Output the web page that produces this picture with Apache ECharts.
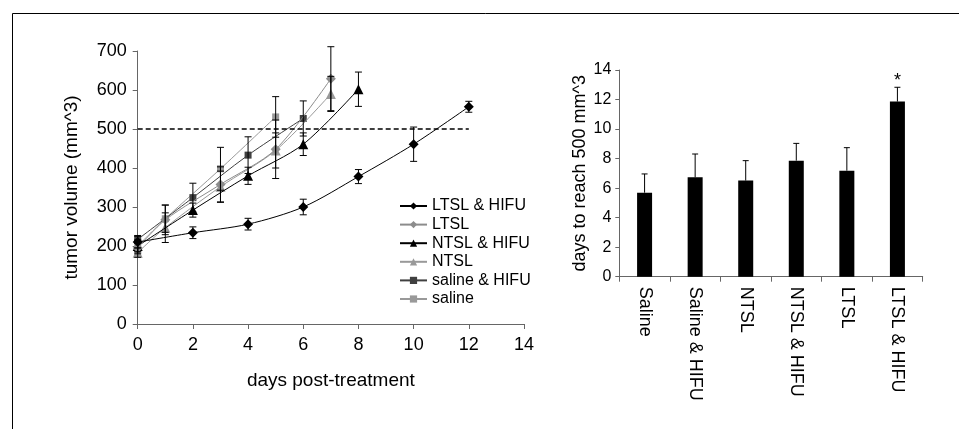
<!DOCTYPE html>
<html>
<head>
<meta charset="utf-8">
<script src="https://cdn.jsdelivr.net/npm/echarts@6/dist/echarts.min.js"></script>
<style>
html,body{margin:0;padding:0;background:#fff;}
#chart{width:959px;height:429px;}
</style>
</head>
<body>
<div id="chart"></div>
<script>
// ---- Left panel: tumor volume over time ----
const seriesNames = ['LTSL & HIFU', 'LTSL', 'NTSL & HIFU', 'NTSL', 'saline & HIFU', 'saline'];

const ltslHifuDays = [0, 2, 4, 6, 8, 10, 12];
const ltslHifuVol  = [210, 234, 256, 300, 378, 461, 557];
const ltslHifuErr  = [15, 15, 15, 20, 18, 44, 14];

const ltslDays = [0, 1, 3, 5, 7];
const ltslVol  = [195, 267, 358, 448, 629];
const ltslErr  = [15, 38, 45, 75, 82];

const ntslHifuDays = [0, 2, 4, 6, 8];
const ntslHifuVol  = [200, 292, 380, 461, 602];
const ntslHifuErr  = [15, 18, 22, 29, 44];

const ntslDays = [0, 1, 3, 5, 7];
const ntslVol  = [183, 247, 352, 445, 590];
const ntslErr  = [12, 38, 40, 45, 45];

const salineHifuDays = [0, 2, 4, 6];
const salineHifuVol  = [217, 324, 433, 527];
const salineHifuErr  = [10, 37, 47, 45];

const salineDays = [0, 1, 3, 5];
const salineVol  = [200, 270, 398, 531];
const salineErr  = [15, 35, 55, 52];

const thresholdVolume = 500;
const thresholdEndDay = 12;

const xMin = 0, xMax = 14, xStep = 2;
const yMin = 0, yMax = 700, yStep = 100;

// ---- Right panel: days to reach 500 mm^3 ----
const barCategories = ['Saline', 'Saline & HIFU', 'NTSL', 'NTSL & HIFU', 'LTSL', 'LTSL & HIFU'];
const barDays = [5.69, 6.73, 6.51, 7.86, 7.18, 11.86];
const barErr  = [1.27, 1.58, 1.35, 1.17, 1.56, 0.97];
const barMarks = ['', '', '', '', '', '*'];
const barYMin = 0, barYMax = 14, barYStep = 2;

const FONT = 'Liberation Sans, Arial, sans-serif';

const groups = [
  {name: seriesNames[0], days: ltslHifuDays, vol: ltslHifuVol, err: ltslHifuErr, color: '#000000', symbol: 'diamond', size: 10},
  {name: seriesNames[1], days: ltslDays, vol: ltslVol, err: ltslErr, color: '#8c8c8c', symbol: 'diamond', size: 10},
  {name: seriesNames[2], days: ntslHifuDays, vol: ntslHifuVol, err: ntslHifuErr, color: '#000000', symbol: 'triangle', size: 10},
  {name: seriesNames[3], days: ntslDays, vol: ntslVol, err: ntslErr, color: '#999999', symbol: 'triangle', size: 10},
  {name: seriesNames[4], days: salineHifuDays, vol: salineHifuVol, err: salineHifuErr, color: '#404040', symbol: 'rect', size: 7},
  {name: seriesNames[5], days: salineDays, vol: salineVol, err: salineErr, color: '#999999', symbol: 'rect', size: 7}
];

function lineErrRender(params, api) {
  const x = api.value(0), y = api.value(1), e = api.value(2);
  const top = api.coord([x, y + e]);
  const bot = api.coord([x, y - e]);
  const hw = 3.5;
  const st = {stroke: '#000', lineWidth: 1};
  return {
    type: 'group',
    children: [
      {type: 'line', shape: {x1: top[0], y1: top[1], x2: bot[0], y2: bot[1]}, style: st},
      {type: 'line', shape: {x1: top[0] - hw, y1: top[1], x2: top[0] + hw, y2: top[1]}, style: st},
      {type: 'line', shape: {x1: bot[0] - hw, y1: bot[1], x2: bot[0] + hw, y2: bot[1]}, style: st}
    ]
  };
}

function barErrRender(params, api) {
  const i = api.value(0), v = api.value(1), e = api.value(2);
  const base = api.coord([i, v]);
  const top = api.coord([i, v + e]);
  const hw = 3;
  const st = {stroke: '#000', lineWidth: 1};
  const children = [
    {type: 'line', shape: {x1: base[0], y1: base[1], x2: top[0], y2: top[1]}, style: st},
    {type: 'line', shape: {x1: top[0] - hw, y1: top[1], x2: top[0] + hw, y2: top[1]}, style: st}
  ];
  const mark = barMarks[params.dataIndex];
  if (mark) {
    children.push({type: 'text', style: {text: mark, x: top[0], y: top[1] + 3, align: 'center', verticalAlign: 'bottom', fontSize: 18, fontFamily: FONT, fill: '#000'}});
  }
  return {type: 'group', children};
}

const series = [];
groups.forEach((g, gi) => {
  const s = {
    name: g.name,
    type: 'line',
    xAxisIndex: 0, yAxisIndex: 0,
    data: g.days.map((d, i) => [d, g.vol[i]]),
    symbol: g.symbol,
    symbolSize: g.size,
    smooth: 0.3,
    lineStyle: {color: g.color, width: 1},
    itemStyle: {color: g.color},
    z: 3 + (6 - gi) * 0.01,
    animation: false
  };
  if (gi === 0) {
    s.markLine = {
      silent: true,
      symbol: 'none',
      label: {show: false},
      lineStyle: {color: '#000', type: [5, 3], width: 1.5},
      data: [[{coord: [xMin, thresholdVolume]}, {coord: [thresholdEndDay, thresholdVolume]}]]
    };
  }
  series.push(s);
  series.push({
    name: g.name + ' error',
    type: 'custom',
    xAxisIndex: 0, yAxisIndex: 0,
    data: g.days.map((d, i) => [d, g.vol[i], g.err[i]]),
    renderItem: lineErrRender,
    z: 4,
    animation: false
  });
});

series.push({
  name: 'days to reach',
  type: 'bar',
  xAxisIndex: 1, yAxisIndex: 1,
  data: barDays,
  barWidth: 15,
  itemStyle: {color: '#000'},
  animation: false
});
series.push({
  name: 'days error',
  type: 'custom',
  xAxisIndex: 1, yAxisIndex: 1,
  data: barDays.map((v, i) => [i, v, barErr[i]]),
  renderItem: barErrRender,
  z: 4,
  animation: false
});

const axisLineGray = {show: true, lineStyle: {color: '#666', width: 1}};

const option = {
  backgroundColor: '#fff',
  animation: false,
  textStyle: {fontFamily: FONT},
  grid: [
    {left: 137.7, top: 51, width: 386.3, height: 273, containLabel: false},
    {left: 619.3, top: 70, width: 303.4, height: 206.7, containLabel: false}
  ],
  legend: {
    orient: 'vertical',
    left: 394,
    top: 193,
    itemWidth: 27,
    itemHeight: 9,
    itemGap: 2.6,
    data: seriesNames,
    textStyle: {fontSize: 16, fontFamily: FONT, color: '#000'},
    selectedMode: false
  },
  xAxis: [
    {
      type: 'value', gridIndex: 0, min: xMin, max: xMax, interval: xStep,
      name: 'days post-treatment', nameLocation: 'middle', nameGap: 47,
      nameTextStyle: {fontSize: 19, color: '#000', fontFamily: FONT},
      axisLine: axisLineGray,
      axisTick: {show: true, inside: false, length: 5, lineStyle: {color: '#666'}},
      axisLabel: {fontSize: 18, color: '#000', margin: 12, fontFamily: FONT},
      splitLine: {show: false}
    },
    {
      type: 'category', gridIndex: 1, data: barCategories,
      axisLine: axisLineGray,
      axisTick: {show: true, inside: false, length: 5, alignWithLabel: false, lineStyle: {color: '#666'}},
      axisLabel: {fontSize: 18, color: '#000', rotate: -90, margin: 10, fontFamily: FONT, interval: 0},
      splitLine: {show: false}
    }
  ],
  yAxis: [
    {
      type: 'value', gridIndex: 0, min: yMin, max: yMax, interval: yStep,
      name: 'tumor volume (mm^3)', nameLocation: 'middle', nameGap: 56, nameRotate: 90,
      nameTextStyle: {fontSize: 19, color: '#000', fontFamily: FONT},
      axisLine: axisLineGray,
      axisTick: {show: true, inside: false, length: 5, lineStyle: {color: '#666'}},
      axisLabel: {fontSize: 18, color: '#000', margin: 11, fontFamily: FONT},
      splitLine: {show: false}
    },
    {
      type: 'value', gridIndex: 1, min: barYMin, max: barYMax, interval: barYStep,
      name: 'days to reach 500 mm^3', nameLocation: 'middle', nameGap: 30, nameRotate: 90,
      nameTextStyle: {fontSize: 18, color: '#000', fontFamily: FONT},
      axisLine: axisLineGray,
      axisTick: {show: true, inside: false, length: 4, lineStyle: {color: '#666'}},
      axisLabel: {fontSize: 16, color: '#000', margin: 8, fontFamily: FONT},
      splitLine: {show: false}
    }
  ],
  graphic: [
    {type: 'line', shape: {x1: 12.5, y1: 13.5, x2: 12.5, y2: 429}, style: {stroke: '#000', lineWidth: 1}, silent: true},
    {type: 'line', shape: {x1: 12.5, y1: 13.5, x2: 959, y2: 13.5}, style: {stroke: '#000', lineWidth: 1}, silent: true}
  ],
  series: series
};

const chart = echarts.init(document.getElementById('chart'), null, {renderer: 'canvas'});
chart.setOption(option);
</script>
</body>
</html>
